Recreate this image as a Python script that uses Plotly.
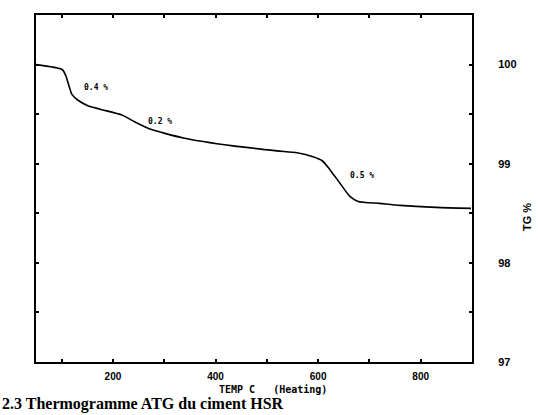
import plotly.graph_objects as go

# Data (TG % vs temperature)
temp_c = [50, 101, 108, 114, 120, 132, 151, 175, 218, 243, 272, 337, 434, 520,
          559, 590, 608, 623, 643, 662, 678, 720, 760, 830, 898]
tg_pct = [100.0, 99.95, 99.89, 99.79, 99.70, 99.64, 99.585, 99.55, 99.49, 99.42,
          99.35, 99.26, 99.18, 99.13, 99.11, 99.07, 99.03, 98.94, 98.80, 98.67,
          98.62, 98.60, 98.58, 98.56, 98.55]

step_labels = ["0.4 %", "0.2 %", "0.5 %"]
step_x = [167, 292, 685]
step_y = [99.77, 99.43, 98.88]

x_tickvals = [200, 400, 600, 800]
y_tickvals = [97, 98, 99, 100]

fig = go.Figure()
fig.add_trace(go.Scatter(x=temp_c, y=tg_pct, mode="lines",
                         line=dict(color="black", width=1.6, shape="spline", smoothing=0.6),
                         showlegend=False, hoverinfo="skip"))

for t, xx, yy in zip(step_labels, step_x, step_y):
    fig.add_annotation(x=xx, y=yy, text=t, showarrow=False,
                       font=dict(family="DejaVu Sans Mono", size=8, color="black", weight="bold"))

fig.update_layout(
    width=538, height=415,
    margin=dict(l=36, r=66, t=15, b=53),
    paper_bgcolor="white", plot_bgcolor="white",
    font=dict(family="Liberation Sans", color="black"),
    xaxis=dict(range=[50, 900], tickvals=x_tickvals, ticks="inside", ticklen=3,
               tickwidth=1.5, tickcolor="black",
               minor=dict(dtick=100, tick0=0, ticks="inside", ticklen=3, tickcolor="black"),
               showline=True, linecolor="black", linewidth=2, mirror="ticks",
               showgrid=False, zeroline=False, ticklabelstandoff=4,
               tickfont=dict(family="Liberation Sans", size=10, color="black", weight="bold")),
    yaxis=dict(range=[97, 100.5], side="right", tickvals=y_tickvals, ticks="inside",
               ticklen=3, tickwidth=1.5, tickcolor="black",
               minor=dict(dtick=0.5, tick0=0, ticks="inside", ticklen=3, tickcolor="black"),
               showline=True, linecolor="black", linewidth=2, mirror="ticks",
               showgrid=False, zeroline=False, ticklabelstandoff=22,
               tickfont=dict(family="Liberation Sans", size=11, color="black", weight="bold")),
)

# Axis titles (pixel positions, converted below)
fig.add_annotation(x=273, y=389, text="TEMP C   (Heating)", xanchor="center", yanchor="middle",
                   showarrow=False, font=dict(family="DejaVu Sans Mono", size=10, weight="bold"))
fig.add_annotation(x=527, y=217, text="TG %", textangle=-90, xanchor="center", yanchor="middle",
                   showarrow=False, font=dict(family="Liberation Sans", size=11, weight="bold"))
# Caption
fig.add_annotation(x=0, y=404, text="2.3 Thermogramme ATG du ciment HSR", showarrow=False,
                   xanchor="left", yanchor="middle",
                   font=dict(family="Liberation Serif", size=16, weight="bold"))

# Convert pixel-placed annotations to paper coordinates
W, H = 538, 415
l, r, t, b = 36, 66, 15, 53
pw, ph = W - l - r, H - t - b
for ann in fig.layout.annotations[len(step_labels):]:
    px, py = ann.x, ann.y
    ann.xref = "paper"
    ann.yref = "paper"
    ann.x = (px - l) / pw
    ann.y = 1 - (py - t) / ph

fig.write_html("out.html")
